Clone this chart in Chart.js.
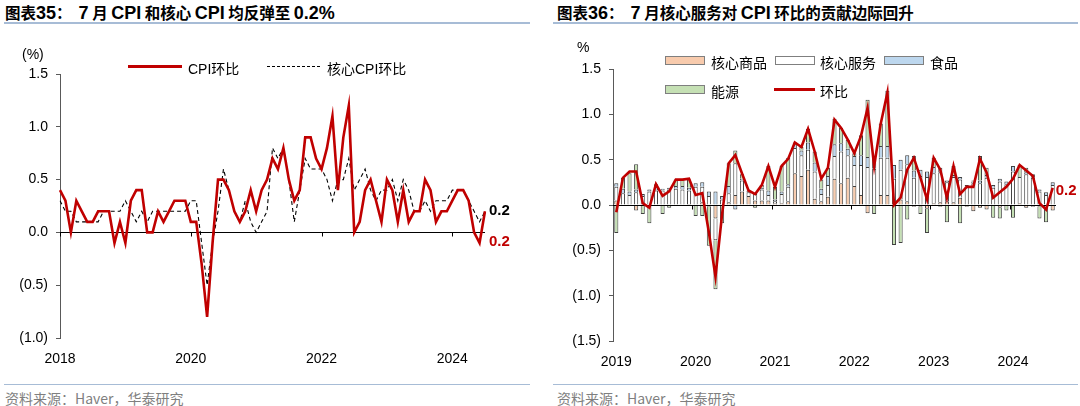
<!DOCTYPE html>
<html>
<head>
<meta charset="utf-8">
<script src="https://cdn.jsdelivr.net/npm/chart.js@4.4.1/dist/chart.umd.min.js"></script>
<style>
  body { margin: 0; width: 1080px; height: 406px; background: #fff; position: relative; overflow: hidden;
         font-family: "Liberation Sans", Arial, "Noto Sans CJK SC", sans-serif; }
  .abs { position: absolute; white-space: nowrap; }
  .title { font-weight: bold; font-size: 15.5px; color: #000; top: 1px; font-family: "Noto Sans CJK SC", sans-serif; }
  .title b { font-family: "Liberation Sans", Arial, sans-serif; font-size: 18px; }
  .rule { position: absolute; height: 2px; background: #a7bcd6; }
  .src { font-size: 14px; color: #7f7f7f; top: 388px; font-family: "Noto Sans CJK SC", sans-serif; }
  .unit { font-size: 14px; color: #000; }
  .leg { font-size: 14px; color: #000; font-family: "Liberation Sans", Arial, "Noto Sans CJK SC", sans-serif; }
  .box { position: absolute; height: 7px; width: 38px; border: 1px solid #7f7f7f; }
  canvas { position: absolute; top: 0; }
</style>
</head>
<body>
<div class="abs title" style="left:5px;">图表<b>35</b>：&nbsp;&nbsp;<b>7</b> 月 <b>CPI</b> 和核心 <b>CPI</b> 均反弹至 <b>0.2%</b></div>
<div class="abs title" style="left:557px;">图表<b>36</b>：&nbsp;&nbsp;<b>7</b> 月核心服务对 <b>CPI</b> 环比的贡献边际回升</div>
<div class="rule" style="left:4px;width:526px;top:22px;"></div>
<div class="rule" style="left:553px;width:525px;top:22px;"></div>
<div class="rule" style="left:4px;width:526px;top:384px;height:1px;"></div>
<div class="rule" style="left:553px;width:525px;top:384px;height:1px;"></div>
<div class="abs src" style="left:5px;">资料来源：Haver，华泰研究</div>
<div class="abs src" style="left:557px;">资料来源：Haver，华泰研究</div>

<canvas id="cpiChart" width="540" height="406" style="left:0;"></canvas>
<canvas id="contribChart" width="540" height="406" style="left:540px;"></canvas>

<!-- units + legends -->
<div class="abs unit" style="left:22px;top:46px;">(%)</div>
<div class="abs unit" style="left:577px;top:39px;">%</div>

<div class="abs" style="left:128px;top:65px;width:54px;height:3px;background:#c00000;"></div>
<div class="abs leg" style="left:188px;top:58px;">CPI环比</div>
<div class="abs" style="left:267px;top:66px;width:53px;border-top:1.3px dashed #000;"></div>
<div class="abs leg" style="left:327px;top:58px;">核心CPI环比</div>

<div class="box" style="left:665px;top:56px;background:#f8cbad;"></div>
<div class="abs leg" style="left:711px;top:52px;">核心商品</div>
<div class="box" style="left:775px;top:56px;background:#fff;"></div>
<div class="abs leg" style="left:820px;top:52px;">核心服务</div>
<div class="box" style="left:884px;top:56px;background:#bdd7ee;"></div>
<div class="abs leg" style="left:930px;top:52px;">食品</div>
<div class="box" style="left:665px;top:85px;background:#c5e0b4;"></div>
<div class="abs leg" style="left:711px;top:81px;">能源</div>
<div class="abs" style="left:774px;top:88px;width:41px;height:3px;background:#c00000;"></div>
<div class="abs leg" style="left:820px;top:81px;">环比</div>

<script>
// ── Left chart: US CPI / core CPI m/m, Jan 2018 – Jul 2024 ──
const leftYears = [2018, 2019, 2020, 2021, 2022, 2023, 2024];
const cpiMom = [
  0.4, 0.3, 0.0, 0.3, 0.2, 0.1, 0.1, 0.2, 0.2, 0.2, -0.1, 0.1,
  -0.1, 0.3, 0.4, 0.4, 0.0, 0.0, 0.2, 0.1, 0.2, 0.3, 0.3, 0.3,
  0.1, 0.1, -0.3, -0.8, -0.1, 0.5, 0.5, 0.4, 0.2, 0.1, 0.2, 0.4,
  0.2, 0.4, 0.5, 0.7, 0.6, 0.8, 0.5, 0.3, 0.4, 0.9, 0.9, 0.7,
  0.6, 0.8, 1.1, 0.4, 0.9, 1.2, 0.0, 0.1, 0.4, 0.5, 0.3, 0.1,
  0.5, 0.4, 0.1, 0.4, 0.1, 0.2, 0.2, 0.5, 0.4, 0.1, 0.2, 0.2,
  0.3, 0.4, 0.4, 0.3, 0.0, -0.1, 0.2
];
const coreMom = [
  0.3, 0.2, 0.2, 0.1, 0.1, 0.1, 0.1, 0.1, 0.2, 0.2, 0.2, 0.2,
  0.3, 0.2, 0.1, 0.2, 0.1, 0.2, 0.2, 0.2, 0.2, 0.2, 0.2, 0.2,
  0.3, 0.3, -0.1, -0.5, -0.1, 0.2, 0.6, 0.4, 0.2, 0.1, 0.3, 0.1,
  0.0, 0.1, 0.2, 0.8, 0.7, 0.8, 0.5, 0.1, 0.4, 0.7, 0.6, 0.6,
  0.6, 0.5, 0.3, 0.5, 0.5, 0.7, 0.4, 0.5, 0.6, 0.4, 0.3, 0.4,
  0.4, 0.5, 0.3, 0.5, 0.4, 0.2, 0.2, 0.3, 0.2, 0.3, 0.3, 0.3,
  0.4, 0.4, 0.4, 0.3, 0.2, 0.1, 0.2
];
const leftYTicks = [-1.0, -0.5, 0.0, 0.5, 1.0, 1.5];

// ── Right chart: contributions to CPI m/m, Jan 2019 – Jul 2024 ──
const rightYears = [2019, 2020, 2021, 2022, 2023, 2024];
const coreGoods = [
  0.05, 0.0, 0.0, -0.06, 0.0, 0.0, 0.0, 0.0, 0.0, 0.0, 0.0, 0.01,
  0.0, 0.03, -0.02, -0.15, 0.0, 0.03, 0.11, 0.15, 0.1, 0.05, 0.05, 0.05,
  0.02, 0.02, 0.04, 0.35, 0.32, 0.39, 0.07, 0.04, 0.09, 0.29, 0.24, 0.3,
  0.21, 0.11, -0.09, 0.0, 0.11, 0.11, 0.0, 0.06, 0.04, -0.02, -0.02, -0.04,
  0.02, 0.03, 0.04, 0.03, 0.08, -0.02, -0.07, -0.03, -0.05, 0.0, -0.03, 0.0,
  0.0, 0.02, -0.03, -0.02, -0.02, -0.03, -0.06
];
const coreServices = [
  0.15, 0.13, 0.11, 0.14, 0.1, 0.15, 0.16, 0.16, 0.17, 0.18, 0.17, 0.15,
  0.2, 0.17, 0.1, -0.24, 0.06, 0.1, 0.35, 0.12, 0.04, 0.07, 0.12, 0.06,
  0.02, 0.1, 0.16, 0.28, 0.23, 0.22, 0.3, 0.08, 0.13, 0.25, 0.35, 0.25,
  0.23, 0.33, 0.42, 0.4, 0.41, 0.41, 0.29, 0.33, 0.41, 0.3, 0.32, 0.31,
  0.33, 0.33, 0.21, 0.28, 0.2, 0.2, 0.24, 0.24, 0.3, 0.19, 0.26, 0.23,
  0.37, 0.29, 0.34, 0.3, 0.15, 0.11, 0.22
];
const food = [
  0.04, 0.05, 0.04, 0.03, 0.02, 0.02, 0.04, 0.02, 0.02, 0.03, 0.04, 0.03,
  0.04, 0.05, 0.05, 0.15, 0.04, 0.08, -0.05, 0.02, 0.0, 0.01, 0.02, 0.05,
  0.02, 0.03, 0.03, 0.04, 0.05, 0.08, 0.1, 0.06, 0.1, 0.13, 0.09, 0.07,
  0.1, 0.11, 0.11, 0.12, 0.13, 0.13, 0.15, 0.11, 0.1, 0.08, 0.07, 0.06,
  0.07, 0.05, 0.02, 0.02, 0.03, 0.02, 0.02, 0.03, 0.03, 0.03, 0.03, 0.03,
  0.06, 0.0, 0.02, 0.01, 0.02, 0.03, 0.03
];
const energy = [
  -0.31, 0.12, 0.2, 0.28, -0.1, -0.2, 0.03, -0.1, -0.03, 0.07, 0.07, 0.09,
  -0.12, -0.12, -0.43, -0.54, -0.2, 0.25, 0.14, 0.05, 0.02, -0.03, 0.03, 0.27,
  0.14, 0.28, 0.29, 0.02, 0.04, 0.15, 0.12, 0.1, 0.09, 0.28, 0.17, 0.1,
  0.03, 0.22, 0.63, -0.1, 0.25, 0.61, -0.44, -0.42, -0.16, 0.16, -0.08, -0.27,
  0.1, -0.02, -0.19, 0.1, -0.2, 0.0, 0.01, 0.27, 0.08, -0.14, -0.12, -0.06,
  -0.14, 0.13, 0.05, 0.03, -0.13, -0.16, 0.0
];
const totalMom = [
  -0.08, 0.3, 0.37, 0.37, 0.02, -0.03, 0.23, 0.1, 0.15, 0.28, 0.28, 0.29,
  0.11, 0.13, -0.3, -0.79, -0.1, 0.46, 0.55, 0.35, 0.16, 0.12, 0.22, 0.43,
  0.2, 0.43, 0.51, 0.69, 0.64, 0.84, 0.59, 0.29, 0.41, 0.94, 0.85, 0.72,
  0.57, 0.76, 1.07, 0.43, 0.9, 1.24, 0.0, 0.08, 0.39, 0.52, 0.3, 0.06,
  0.52, 0.39, 0.08, 0.43, 0.12, 0.2, 0.2, 0.51, 0.36, 0.08, 0.14, 0.2,
  0.29, 0.44, 0.38, 0.32, 0.02, -0.05, 0.19
];
const rightYTicks = [-1.5, -1.0, -0.5, 0.0, 0.5, 1.0, 1.5];

// ── Helpers ──
function monthLabels(years, count) {
  const out = [];
  years.forEach(y => {
    for (let m = 1; m <= 12; m++) out.push(`${y}-${String(m).padStart(2, '0')}`);
  });
  return out.slice(0, count);
}
function fmtPct(v) {
  const s = Math.abs(v).toFixed(1);
  return v < 0 ? `(${s})` : s;
}

Chart.defaults.font.family = "'Liberation Sans', Arial, sans-serif";
Chart.defaults.font.size = 14;
Chart.defaults.color = '#000';
Chart.defaults.animation = false;

// zero line + small year ticks on it, and end-of-series value labels
const axisDecor = {
  id: 'axisDecor',
  beforeDatasetDraw(chart, args, opts) {
    if (args.index !== opts.zeroAt) return;
    const { ctx, chartArea, scales: { x, y } } = chart;
    const y0 = Math.round(y.getPixelForValue(0)) + 0.5;
    ctx.save();
    ctx.strokeStyle = '#000';
    ctx.lineWidth = 1;
    ctx.beginPath();
    ctx.moveTo(chartArea.left, y0);
    ctx.lineTo(chartArea.right, y0);
    ctx.stroke();
    const step = x.getPixelForValue(1) - x.getPixelForValue(0);
    chart.data.labels.forEach((lab, i) => {
      if (!opts.tickAt(lab)) return;
      const px = Math.round(x.getPixelForValue(i) - (opts.between ? step / 2 : 0)) + 0.5;
      ctx.beginPath();
      ctx.moveTo(px, y0);
      ctx.lineTo(px, y0 + 4);
      ctx.stroke();
    });
    ctx.restore();
  },
  afterDatasetsDraw(chart, args, opts) {
    const { ctx, scales: { x, y } } = chart;
    ctx.save();
    ctx.font = "bold 15px 'Liberation Sans', Arial, sans-serif";
    ctx.textAlign = 'left';
    ctx.textBaseline = 'middle';
    (opts.endLabels || []).forEach(l => {
      const data = chart.data.datasets[l.ds].data;
      const last = data.length - 1;
      ctx.fillStyle = l.color;
      ctx.fillText(data[last].toFixed(1), x.getPixelForValue(last) + l.dx, y.getPixelForValue(data[last]) + l.dy);
    });
    ctx.restore();
  }
};

function yAxis(ticks, width) {
  return {
    min: ticks[0], max: ticks[ticks.length - 1],
    afterBuildTicks: s => { s.ticks = ticks.map(v => ({ value: v })); },
    afterFit: s => { s.width = width; },
    border: { display: true, color: '#595959', width: 1 },
    grid: { drawOnChartArea: false, drawTicks: true, tickLength: 4, tickColor: '#595959' },
    ticks: { padding: 8, callback: v => fmtPct(v), font: { size: 14 } }
  };
}

function xAxis(labels, keep) {
  return {
    offset: false,
    afterFit: s => { s.height = 34; },
    border: { display: false },
    grid: { display: false, drawTicks: false },
    ticks: {
      autoSkip: false, maxRotation: 0, padding: 13,
      callback: (v, i) => keep(labels[i]) ? labels[i].slice(0, 4) : null
    }
  };
}

// ── Left chart ──
const leftLabels = monthLabels(leftYears, cpiMom.length);
const leftTick = lab => lab.endsWith('-01') && (+lab.slice(0, 4)) % 2 === 0;
new Chart(document.getElementById('cpiChart'), {
  type: 'line',
  data: {
    labels: leftLabels,
    datasets: [
      { label: 'CPI环比', data: cpiMom, borderColor: '#c00000', borderWidth: 2.6, pointRadius: 0, tension: 0 },
      { label: '核心CPI环比', data: coreMom, borderColor: '#000', borderWidth: 1.1, borderDash: [4, 3], pointRadius: 0, tension: 0 }
    ]
  },
  options: {
    responsive: false,
    layout: { padding: { left: 0, right: 55, top: 74, bottom: 34 } },
    plugins: {
      legend: { display: false },
      tooltip: { enabled: false },
      axisDecor: {
        zeroAt: 1,
        between: false,
        tickAt: leftTick,
        endLabels: [
          { ds: 1, color: '#000', dx: 4, dy: 0 },
          { ds: 0, color: '#c00000', dx: 4, dy: 31 }
        ]
      }
    },
    scales: {
      x: xAxis(leftLabels, leftTick),
      y: yAxis(leftYTicks, 60)
    }
  },
  plugins: [axisDecor]
});

// ── Right chart ──
const rightLabels = monthLabels(rightYears, totalMom.length);
const barBase = { type: 'bar', borderColor: '#404040', borderWidth: 1, barPercentage: 0.62, categoryPercentage: 1, stack: 'parts', order: 1 };
new Chart(document.getElementById('contribChart'), {
  data: {
    labels: rightLabels,
    datasets: [
      { type: 'line', label: '环比', data: totalMom, borderColor: '#c00000', borderWidth: 2.6, pointRadius: 0, tension: 0, stack: 'total', order: 0 },
      { ...barBase, label: '核心商品', data: coreGoods, backgroundColor: '#f8cbad' },
      { ...barBase, label: '核心服务', data: coreServices, backgroundColor: '#ffffff' },
      { ...barBase, label: '食品', data: food, backgroundColor: '#bdd7ee' },
      { ...barBase, label: '能源', data: energy, backgroundColor: '#c5e0b4' }
    ]
  },
  options: {
    responsive: false,
    layout: { padding: { left: 0, right: 24, top: 69, bottom: 31 } },
    plugins: {
      legend: { display: false },
      tooltip: { enabled: false },
      axisDecor: {
        zeroAt: 0,
        between: true,
        tickAt: lab => lab.endsWith('-01') && lab !== '2019-01',
        endLabels: [{ ds: 0, color: '#c00000', dx: 3, dy: 3 }]
      }
    },
    scales: {
      x: { ...xAxis(rightLabels, lab => lab.endsWith('-01')), stacked: true, offset: true },
      y: { ...yAxis(rightYTicks, 73), stacked: true }
    }
  },
  plugins: [axisDecor]
});
</script>
</body>
</html>
